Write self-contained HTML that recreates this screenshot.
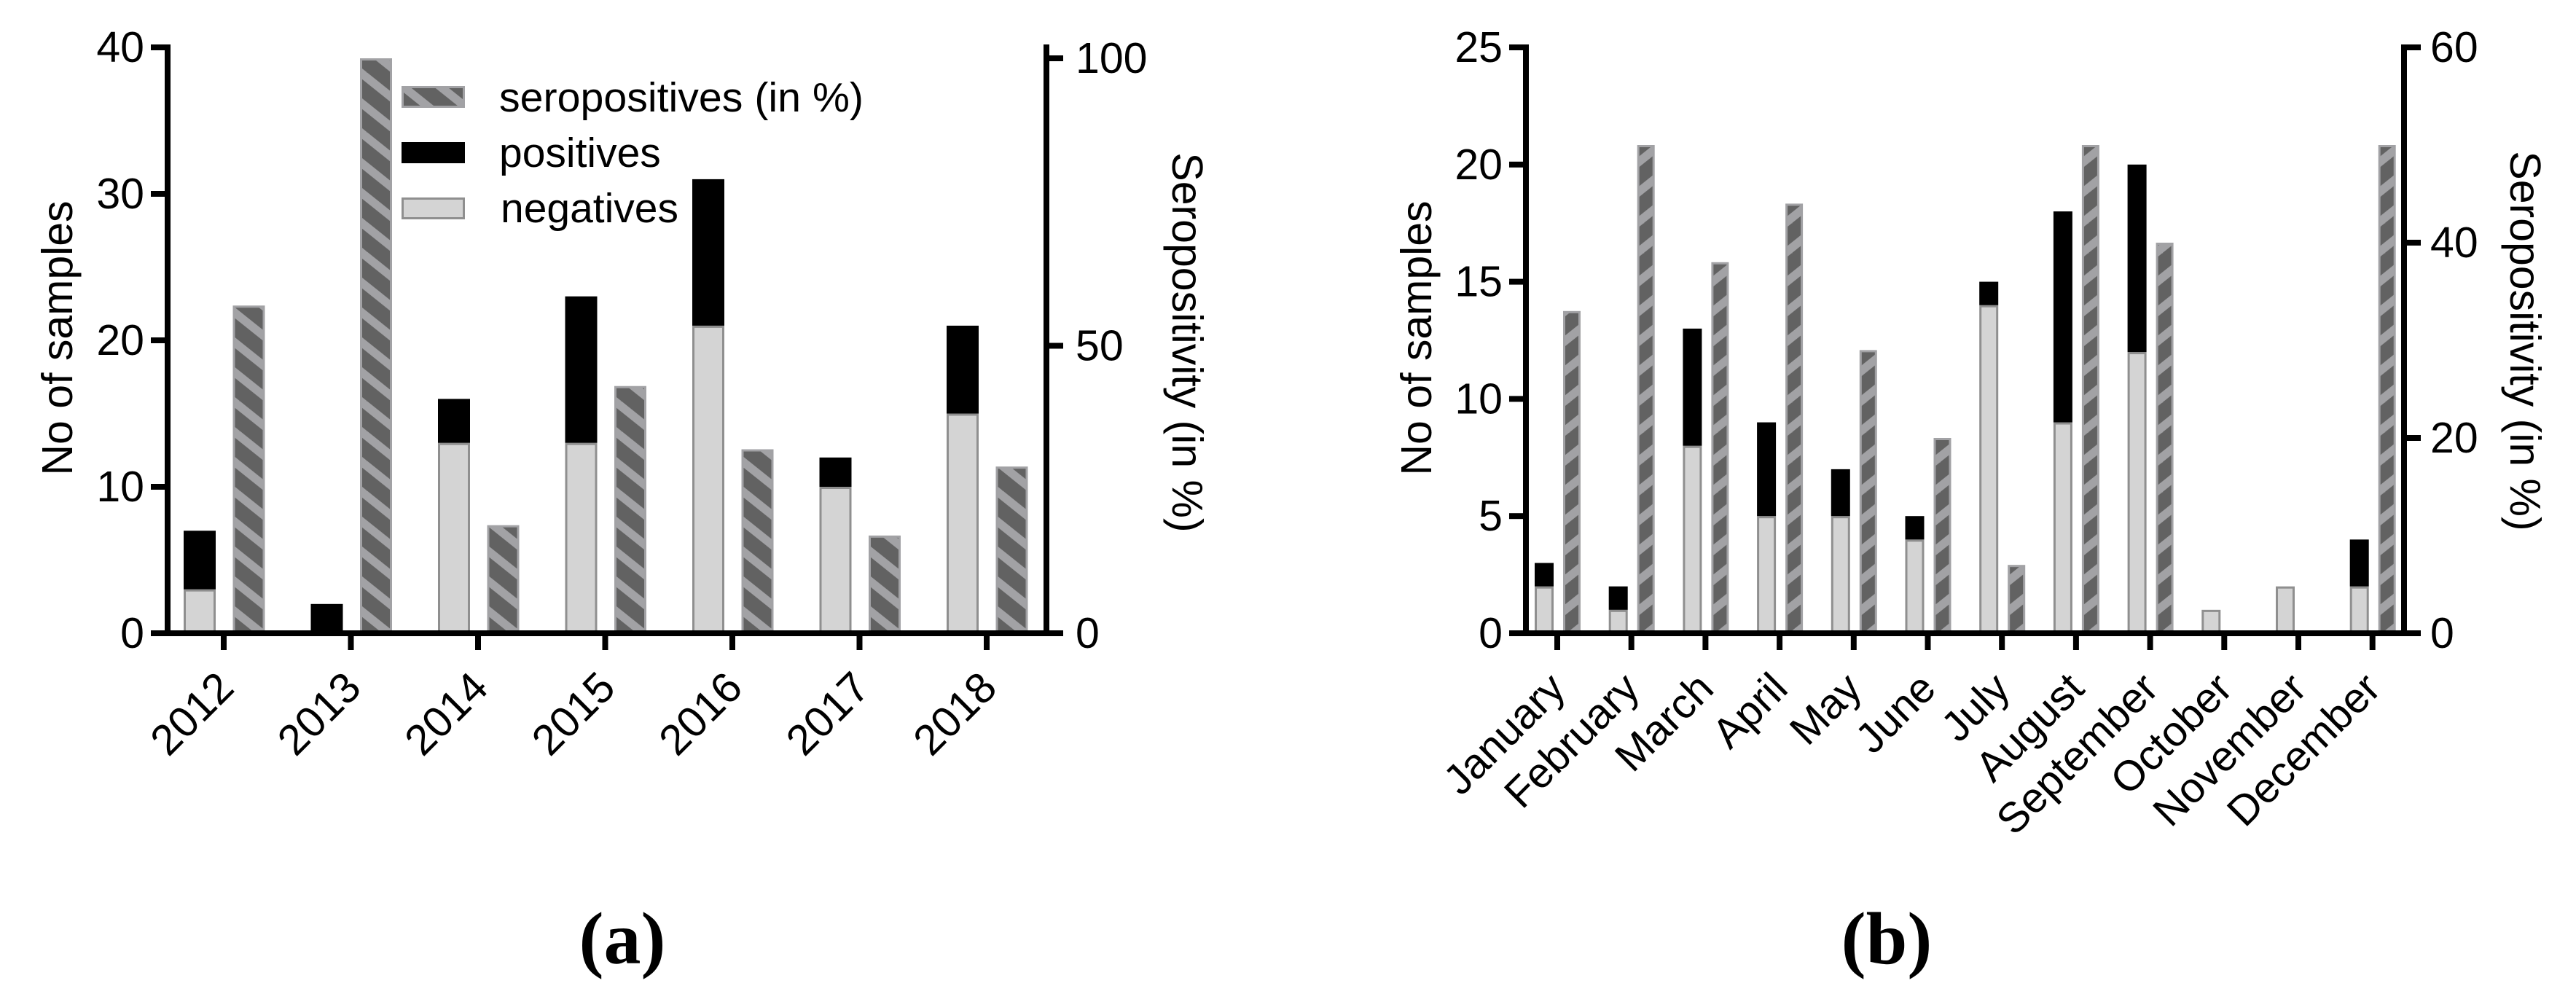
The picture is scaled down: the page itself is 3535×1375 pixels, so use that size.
<!DOCTYPE html>
<html lang="en">
<head>
<meta charset="utf-8">
<title>Seropositivity by year and by month</title>
<style>
  html, body { margin: 0; padding: 0; background: #fff; }
  svg { display: block; font-family: "Liberation Sans", sans-serif; }
  .tick-label { font-size: 59px; fill: #000; }
  .axis-title { font-size: 59px; fill: #000; }
  .legend-text { font-size: 57px; fill: #000; }
  .panel-label { font-family: "Liberation Serif", serif; font-weight: bold; font-size: 102px; fill: #000; }
</style>
</head>
<body>
<svg id="figure" xmlns="http://www.w3.org/2000/svg" width="3535" height="1375" viewBox="0 0 3535 1375">
  <rect x="0" y="0" width="3535" height="1375" fill="#ffffff"/>
  <defs id="defs"></defs>
  <g id="panel-a"></g>
  <g id="panel-b"></g>

  <g>
    <rect id="legend-hatch" x="552.5" y="119.5" width="84" height="27" stroke="#a2a2a5" stroke-width="3"/>
    <text class="legend-text" x="685" y="153" textLength="500" lengthAdjust="spacingAndGlyphs">seropositives (in %)</text>
    <rect x="551" y="195" width="87" height="29" fill="#000000"/>
    <text class="legend-text" x="685" y="229">positives</text>
    <rect x="552.5" y="272.5" width="84" height="27" fill="#d4d4d4" stroke="#8f8f8f" stroke-width="3"/>
    <text class="legend-text" x="687" y="305">negatives</text>
  </g>

  <text class="axis-title" transform="translate(99 464) rotate(-90)" text-anchor="middle">No of samples</text>
  <text class="axis-title" transform="translate(1609 470) rotate(90)" text-anchor="middle">Seropositivity (in %)</text>
  <text class="axis-title" transform="translate(1964 464) rotate(-90)" text-anchor="middle">No of samples</text>
  <text class="axis-title" transform="translate(3445 468) rotate(90)" text-anchor="middle">Seropositivity (in %)</text>
  <text class="panel-label" x="854" y="1322" text-anchor="middle">(a)</text>
  <text class="panel-label" x="2589" y="1322" text-anchor="middle">(b)</text>
</svg>

<script>
// Panel (a) data
const yearCategories = ['2012', '2013', '2014', '2015', '2016', '2017', '2018'];
const yearNegatives = [3, 0, 13, 13, 21, 10, 15];
const yearPositives = [4, 2, 3, 10, 10, 2, 6];
const yearSeropositive = [57, 100, 18.8, 43, 32, 17, 29];
const yearLeftTicks = [0, 10, 20, 30, 40];
const yearRightTicks = [0, 50, 100];

// Panel (b) data
const monthCategories = ['January', 'February', 'March', 'April', 'May', 'June', 'July', 'August', 'September', 'October', 'November', 'December'];
const monthNegatives = [2, 1, 8, 5, 5, 4, 14, 9, 12, 1, 2, 2];
const monthPositives = [1, 1, 5, 4, 2, 1, 1, 9, 8, 0, 0, 2];
const monthSeropositive = [33, 50, 38, 44, 29, 20, 7, 50, 40, 0, 0, 50];
const monthLeftTicks = [0, 5, 10, 15, 20, 25];
const monthRightTicks = [0, 20, 40, 60];

const SVG_NS = 'http://www.w3.org/2000/svg';
const defs = document.getElementById('defs');
let patternCount = 0;

function make(parent, tag, attrs, text) {
  const el = document.createElementNS(SVG_NS, tag);
  for (const k in attrs) el.setAttribute(k, attrs[k]);
  if (text !== undefined) el.textContent = text;
  parent.appendChild(el);
  return el;
}

function hatchPattern(x, phase, falling) {
  const id = 'hatch-' + (patternCount++);
  const p = make(defs, 'pattern', {
    id: id, patternUnits: 'userSpaceOnUse', width: 51.25, height: 41,
    patternTransform: 'translate(' + x + ' ' + phase + ')'
  });
  make(p, 'rect', { x: 0, y: 0, width: 51.25, height: 41, fill: '#626262' });
  const d = falling
    ? 'M-10,-8L61.25,49M-10,-49L61.25,8M-10,33L61.25,90'
    : 'M-10,8L61.25,-49M-10,49L61.25,-8M-10,90L61.25,33';
  make(p, 'path', { d: d, stroke: '#a2a2a5', 'stroke-width': 11.5, fill: 'none' });
  return 'url(#' + id + ')';
}

function drawPanel(cfg) {
  const g = document.getElementById(cfg.group);
  const yL = v => cfg.zeroY - v * cfg.leftUnit;
  const yR = v => cfg.zeroY - v * cfg.rightUnit;
  const xTick = i => cfg.firstTick + i * cfg.tickStep;

  cfg.categories.forEach((name, i) => {
    const cx = xTick(i);
    const nx = cx + cfg.negFrom, nw = cfg.negWidth;
    const neg = cfg.negatives[i], pos = cfg.positives[i], sero = cfg.sero[i];
    if (neg > 0) {
      const r = make(g, 'rect', {
        x: nx + 1.5, y: yL(neg) + 1.5, width: nw - 3, height: cfg.zeroY - yL(neg) - 1.5,
        fill: '#d4d4d4', stroke: '#8f8f8f', 'stroke-width': 3
      });
      
      
    }
    if (pos > 0) {
      const r = make(g, 'rect', {
        x: nx, y: yL(neg + pos), width: nw, height: yL(neg) - yL(neg + pos), fill: '#000000'
      });
      
      
    }
    if (sero > 0) {
      const hx = cx + cfg.hatchFrom, hw = cfg.hatchWidth;
      const r = make(g, 'rect', {
        x: hx + 1.5, y: yR(sero) + 1.5, width: hw - 3, height: cfg.zeroY - yR(sero) - 1.5,
        fill: hatchPattern(hx, cfg.hatchPhase, cfg.falling), stroke: '#a2a2a5', 'stroke-width': 3
      });
      
      
    }
    const t = make(g, 'rect', { x: cx - 4, y: cfg.zeroY + 4, width: 8, height: 19, fill: '#000' });
    
    
    const lbl = make(g, 'text', {
      class: 'tick-label', 'text-anchor': 'end',
      transform: 'translate(' + (cx + cfg.labelDx) + ' ' + cfg.labelY + ') rotate(-45)',
      style: 'font-size:' + cfg.xFont + 'px'
    }, name);
    
    
  });

  // Axis lines
  const leftLine = make(g, 'rect', { x: cfg.leftX - 4, y: yL(cfg.leftTicks[cfg.leftTicks.length - 1]) - 4, width: 8, height: cfg.zeroY - yL(cfg.leftTicks[cfg.leftTicks.length - 1]) + 8, fill: '#000' });
  
  
  const rightLine = make(g, 'rect', { x: cfg.rightX - 4, y: cfg.rightTop, width: 8, height: cfg.zeroY - cfg.rightTop + 4, fill: '#000' });
  
  
  const xLine = make(g, 'rect', { x: cfg.leftX - 23, y: cfg.zeroY - 4, width: cfg.rightX - cfg.leftX + 46, height: 8, fill: '#000' });
  
  

  cfg.leftTicks.forEach(v => {
    const t = make(g, 'rect', { x: cfg.leftX - 23, y: yL(v) - 4, width: 23, height: 8, fill: '#000' });
    
    
    const l = make(g, 'text', { class: 'tick-label', x: cfg.leftX - 32, y: yL(v) + 20, 'text-anchor': 'end' }, String(v));
    
    
  });
  cfg.rightTicks.forEach(v => {
    const t = make(g, 'rect', { x: cfg.rightX, y: yR(v) - 4, width: 23, height: 8, fill: '#000' });
    
    
    const l = make(g, 'text', { class: 'tick-label', x: cfg.rightX + cfg.rightLabelDx, y: yR(v) + 20 }, String(v));
    
    
  });
}

drawPanel({
  group: 'panel-a', categories: yearCategories, negatives: yearNegatives, positives: yearPositives,
  sero: yearSeropositive, leftTicks: yearLeftTicks, rightTicks: yearRightTicks,
  zeroY: 869, leftUnit: 20.1, rightUnit: 7.89, firstTick: 307, tickStep: 174.5,
  negFrom: -55, negWidth: 44, hatchFrom: 12.5, hatchWidth: 44, hatchPhase: 17, falling: true,
  leftX: 230, rightX: 1436, rightLabelDx: 40, rightTop: 61, labelDx: 17, labelY: 947, xFont: 59
});
drawPanel({
  group: 'panel-b', categories: monthCategories, negatives: monthNegatives, positives: monthPositives,
  sero: monthSeropositive, leftTicks: monthLeftTicks, rightTicks: monthRightTicks,
  zeroY: 869, leftUnit: 32.16, rightUnit: 13.4, firstTick: 2137, tickStep: 101.7,
  negFrom: -31, negWidth: 26, hatchFrom: 8, hatchWidth: 24, hatchPhase: 19, falling: false,
  leftX: 2094, rightX: 3299, rightLabelDx: 36, rightTop: 61, labelDx: 14, labelY: 948, xFont: 58
});
document.getElementById('legend-hatch').setAttribute('fill', hatchPattern(552, 118, true));
</script>
</body>
</html>
